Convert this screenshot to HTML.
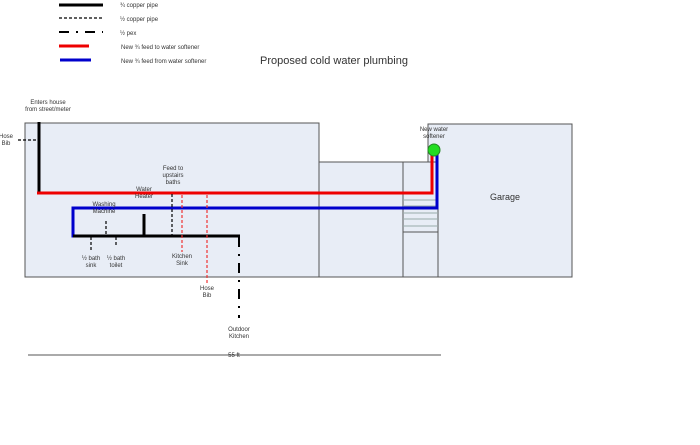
<!DOCTYPE html>
<html><head><style>
body{margin:0;background:#fff}
svg text{font-family:"Liberation Sans",sans-serif;fill:#333}
</style></head><body>
<svg width="700" height="440" xmlns="http://www.w3.org/2000/svg">
<g stroke="#555" stroke-width="1" fill="#e8edf6">
<rect x="25" y="123" width="294" height="154"/>
<rect x="319" y="162" width="84" height="115"/>
<rect x="403" y="162" width="35" height="115"/>
<path d="M428 162 V124 H572 V277 H438 V162 Z"/>
</g>
<g stroke="#9aa" stroke-width="1">
<line x1="403" y1="200" x2="438" y2="200"/><line x1="403" y1="206" x2="438" y2="206"/>
<line x1="403" y1="213" x2="438" y2="213"/><line x1="403" y1="219" x2="438" y2="219"/>
<line x1="403" y1="226" x2="438" y2="226"/>
</g>
<line x1="403" y1="232" x2="438" y2="232" stroke="#555"/>
<!-- legend -->
<line x1="59" y1="5" x2="103" y2="5" stroke="#000" stroke-width="3"/>
<line x1="59" y1="18" x2="103" y2="18" stroke="#000" stroke-width="1.2" stroke-dasharray="3,2"/>
<line x1="59" y1="32" x2="103" y2="32" stroke="#000" stroke-width="2" stroke-dasharray="10,7,2,7"/>
<line x1="59" y1="46" x2="89" y2="46" stroke="#e00" stroke-width="3"/>
<line x1="60" y1="60" x2="91" y2="60" stroke="#00c" stroke-width="3"/>
<g font-size="6">
<text x="120" y="7">¾ copper pipe</text>
<text x="120" y="21">½ copper pipe</text>
<text x="120" y="35">½ pex</text>
<text x="121" y="49">New ¾ feed to water softener</text>
<text x="121" y="63">New ¾ feed from water softener</text>
</g>
<text x="260" y="64" font-size="11" fill="#111">Proposed cold water plumbing</text>
<!-- pipes -->
<line x1="39" y1="122" x2="39" y2="194" stroke="#000" stroke-width="3"/>
<line x1="18" y1="140" x2="38" y2="140" stroke="#000" stroke-width="1.2" stroke-dasharray="3,2"/>
<polyline points="37,193 432,193 432,148" fill="none" stroke="#e00" stroke-width="3"/>
<polyline points="437,148 437,208 73,208 73,236 80,236" fill="none" stroke="#00c" stroke-width="3"/>
<line x1="73" y1="236" x2="240" y2="236" stroke="#000" stroke-width="3"/>
<line x1="144" y1="214" x2="144" y2="236" stroke="#000" stroke-width="3"/>
<g stroke="#000" stroke-width="1.2" stroke-dasharray="3,2">
<line x1="172" y1="194" x2="172" y2="235"/>
<line x1="106" y1="221" x2="106" y2="235"/>
<line x1="91" y1="237" x2="91" y2="250"/>
<line x1="116" y1="237" x2="116" y2="246"/>
</g>
<g stroke="#e33" stroke-width="1.2" stroke-dasharray="3,2">
<line x1="182" y1="195" x2="182" y2="252"/>
<line x1="207" y1="195" x2="207" y2="284"/>
</g>
<line x1="239" y1="237" x2="239" y2="318" stroke="#000" stroke-width="2" stroke-dasharray="10,7,2,7"/>
<circle cx="434" cy="150" r="6" fill="#2d2" stroke="#282"/>
<line x1="28" y1="355" x2="441" y2="355" stroke="#555"/>
<g font-size="6" text-anchor="middle">
<text x="48" y="104">Enters house</text><text x="48" y="111">from street/meter</text>
<text x="6" y="138">Hose</text><text x="6" y="145">Bib</text>
<text x="173" y="170">Feed to</text><text x="173" y="177">upstairs</text><text x="173" y="184">baths</text>
<text x="144" y="191">Water</text><text x="144" y="198">Heater</text>
<text x="104" y="206">Washing</text><text x="104" y="213">Machine</text>
<text x="91" y="260">½ bath</text><text x="91" y="267">sink</text>
<text x="116" y="260">½ bath</text><text x="116" y="267">toilet</text>
<text x="182" y="258">Kitchen</text><text x="182" y="265">Sink</text>
<text x="207" y="290">Hose</text><text x="207" y="297">Bib</text>
<text x="239" y="331">Outdoor</text><text x="239" y="338">Kitchen</text>
<text x="434" y="131">New water</text><text x="434" y="138">softener</text>
<text x="234" y="357" fill="#555">55 ft</text>
</g>
<text x="505" y="200" font-size="9" text-anchor="middle">Garage</text>
</svg>
</body></html>
